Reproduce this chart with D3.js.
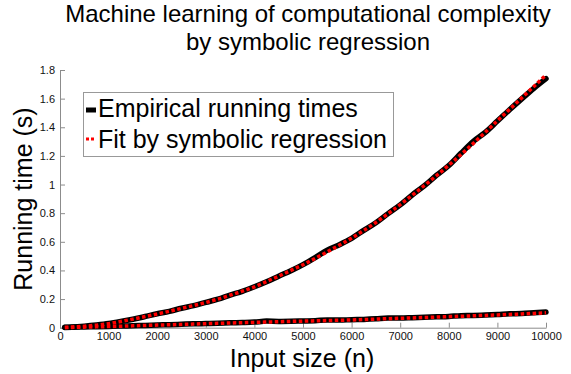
<!DOCTYPE html>
<html>
<head>
<meta charset="utf-8">
<script src="https://cdn.jsdelivr.net/npm/d3@7"></script>
<style>
  html, body { margin: 0; padding: 0; background: #fff; }
  svg { display: block; font-family: "Liberation Sans", Arial, Helvetica, sans-serif; }
</style>
</head>
<body>
<svg id="chart" width="571" height="374"></svg>
<script>
const titleLines = ["Machine learning of computational complexity", "by symbolic regression"];
const xLabel = "Input size (n)";
const yLabel = "Running time (s)";
const seriesNames = ["Empirical running times", "Fit by symbolic regression"];
const xTicks = [0, 1000, 2000, 3000, 4000, 5000, 6000, 7000, 8000, 9000, 10000];
const yTicks = [0, 0.2, 0.4, 0.6, 0.8, 1, 1.2, 1.4, 1.6, 1.8];

const n = [100, 250, 500, 750, 1000, 1250, 1500, 1750, 2000, 2250, 2500, 2750, 3000, 3250, 3500, 3750, 4000, 4250, 4500, 4750, 5000, 5250, 5500, 5750, 6000, 6250, 6500, 6750, 7000, 7250, 7500, 7750, 8000, 8250, 8500, 8750, 9000, 9250, 9500, 9750, 10000];

const empUpper = [0.003, 0.005, 0.011, 0.019, 0.029, 0.043, 0.059, 0.078, 0.097, 0.114, 0.136, 0.154, 0.177, 0.199, 0.228, 0.254, 0.286, 0.321, 0.360, 0.398, 0.441, 0.490, 0.542, 0.580, 0.624, 0.680, 0.733, 0.797, 0.858, 0.928, 0.992, 1.065, 1.133, 1.218, 1.300, 1.364, 1.443, 1.522, 1.598, 1.672, 1.740];
const fitUpper = [0.002, 0.005, 0.010, 0.018, 0.028, 0.043, 0.060, 0.078, 0.096, 0.115, 0.135, 0.155, 0.176, 0.200, 0.227, 0.255, 0.285, 0.322, 0.360, 0.400, 0.440, 0.484, 0.530, 0.577, 0.625, 0.679, 0.735, 0.796, 0.860, 0.926, 0.994, 1.063, 1.135, 1.209, 1.286, 1.365, 1.445, 1.525, 1.605, 1.685, 1.765];
const empLower = [0.002, 0.003, 0.005, 0.007, 0.009, 0.011, 0.014, 0.016, 0.019, 0.021, 0.024, 0.027, 0.029, 0.031, 0.034, 0.036, 0.039, 0.046, 0.044, 0.045, 0.047, 0.049, 0.054, 0.053, 0.056, 0.058, 0.062, 0.068, 0.067, 0.070, 0.073, 0.076, 0.079, 0.084, 0.085, 0.088, 0.092, 0.097, 0.099, 0.104, 0.109];
const fitLower = [0.001, 0.002, 0.004, 0.006, 0.008, 0.0105, 0.013, 0.0155, 0.018, 0.0205, 0.023, 0.0255, 0.028, 0.0305, 0.033, 0.035, 0.037, 0.0395, 0.042, 0.044, 0.046, 0.048, 0.050, 0.052, 0.054, 0.057, 0.060, 0.063, 0.066, 0.0685, 0.071, 0.074, 0.077, 0.080, 0.083, 0.086, 0.089, 0.0925, 0.096, 0.100, 0.104];

const svg = d3.select("#chart");
const mLeft = 60, mRight = 546, mTop = 70, mBottom = 327.7;

const x = d3.scaleLinear().domain([0, 10000]).range([mLeft, mRight]);
const y = d3.scaleLinear().domain([0, 1.8]).range([mBottom, mTop]);

const axisColor = "#8c8c8c";

// Axes
const xAxis = svg.append("g").attr("transform", `translate(0,${mBottom})`)
  .call(d3.axisBottom(x).tickValues(xTicks).tickSizeInner(-5).tickSizeOuter(0).tickPadding(5).tickFormat(d3.format("d")));
const yAxis = svg.append("g").attr("transform", `translate(${mLeft},0)`)
  .call(d3.axisLeft(y).tickValues(yTicks).tickSizeInner(-5).tickSizeOuter(0).tickPadding(5).tickFormat(d => d3.format("~g")(d)));
[xAxis, yAxis].forEach(g => {
  g.select(".domain").attr("stroke", axisColor).attr("stroke-width", 1);
  g.selectAll(".tick line").attr("stroke", axisColor);
  g.selectAll(".tick text").attr("fill", "#111").style("font-size", "11px")
    .style("font-family", "'Liberation Sans', Arial, Helvetica, sans-serif");
});

const line = d3.line().x(d => x(d[0])).y(d => y(d[1])).curve(d3.curveMonotoneX);
const zip = vals => n.map((v, i) => [v, vals[i]]);

const plot = svg.append("g");
[empLower, empUpper].forEach(vals => {
  plot.append("path").attr("d", line(zip(vals)))
    .attr("fill", "none").attr("stroke", "#000").attr("stroke-width", 5.5)
    .attr("stroke-linejoin", "round").attr("stroke-linecap", "round");
});
[fitLower, fitUpper].forEach(vals => {
  plot.append("path").attr("d", line(zip(vals)))
    .attr("fill", "none").attr("stroke", "#ff0000").attr("stroke-width", 3.5)
    .attr("stroke-dasharray", "3.5,2.5");
});

// Title
svg.append("text").attr("x", 308).attr("y", 22).attr("text-anchor", "middle")
  .style("font-size", "24px").attr("fill", "#000").text(titleLines[0]);
svg.append("text").attr("x", 308).attr("y", 50).attr("text-anchor", "middle")
  .style("font-size", "24px").attr("fill", "#000").text(titleLines[1]);

// Axis labels
svg.append("text").attr("x", 302).attr("y", 367).attr("text-anchor", "middle")
  .style("font-size", "25px").attr("fill", "#000").text(xLabel);
svg.append("text").attr("transform", `translate(32,199) rotate(-90)`).attr("text-anchor", "middle")
  .style("font-size", "25px").attr("fill", "#000").text(yLabel);

// Legend
const lg = svg.append("g");
lg.append("rect").attr("x", 83.5).attr("y", 92.5).attr("width", 310).attr("height", 64)
  .attr("fill", "#fff").attr("stroke", "#999").attr("stroke-width", 1);
lg.append("line").attr("x1", 86).attr("x2", 96).attr("y1", 110).attr("y2", 110)
  .attr("stroke", "#000").attr("stroke-width", 5);
lg.append("line").attr("x1", 86).attr("x2", 96).attr("y1", 139).attr("y2", 139)
  .attr("stroke", "#ff0000").attr("stroke-width", 3).attr("stroke-dasharray", "3,2");
lg.append("text").attr("x", 98).attr("y", 117).style("font-size", "25px").attr("fill", "#000").text(seriesNames[0]);
lg.append("text").attr("x", 98).attr("y", 148).style("font-size", "25px").attr("fill", "#000").text(seriesNames[1]);
</script>
</body>
</html>
